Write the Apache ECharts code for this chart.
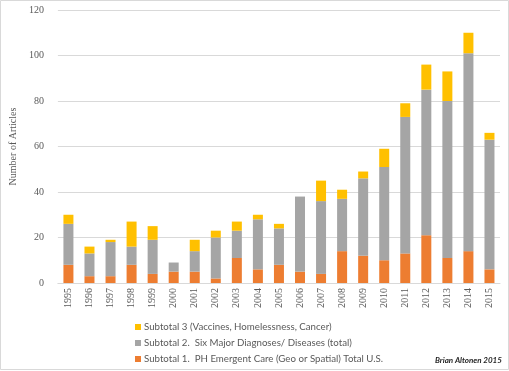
<!DOCTYPE html>
<html>
<head>
<meta charset="utf-8">
<script src="https://cdn.jsdelivr.net/npm/echarts@6/dist/echarts.min.js"></script>
<style>html,body{margin:0;padding:0;background:#fff;}#c{width:509px;height:371px;}</style>
</head>
<body>
<div id="c"></div>
<script>
var years = ['1995','1996','1997','1998','1999','2000','2001','2002','2003','2004','2005','2006','2007','2008','2009','2010','2011','2012','2013','2014','2015'];
var subtotal1 = [8,3,3,8,4,5,5,2,11,6,8,5,4,14,12,10,13,21,11,14,6];
var subtotal2 = [18,10,15,8,15,4,9,18,12,22,16,33,32,23,34,41,60,64,69,87,57];
var subtotal3 = [4,3,1,11,6,0,5,3,4,2,2,0,9,4,3,8,6,11,13,9,3];
var yTicks = [0,20,40,60,80,100,120];
var names = ['Subtotal 1.  PH Emergent Care (Geo or Spatial) Total U.S.', 'Subtotal 2.  Six Major Diagnoses/ Diseases (total)', 'Subtotal 3 (Vaccines, Homelessness, Cancer)'];

var chart = echarts.init(document.getElementById('c'));
var serif = '"Liberation Serif", "DejaVu Serif", serif';
var sans = 'Lato, "Liberation Sans", sans-serif';
function bar(name, data, color) {
  return { name: name, type: 'bar', stack: 'a', data: data, barWidth: 10,
    itemStyle: { color: color }, emphasis: { disabled: true } };
}
chart.setOption({
  animation: false,
  grid: { left: 48, right: 9, top: 10, bottom: 88, containLabel: false },
  graphic: [
    { type: 'rect', shape: { x: 0.5, y: 0.5, width: 508, height: 369 }, style: { fill: 'none', stroke: '#d9d9d9', lineWidth: 1 } },
    { type: 'text', left: 435, top: 356, style: { text: 'Brian Altonen 2015', font: 'italic bold 8px ' + sans, fill: '#262626' } }
  ],
  xAxis: {
    type: 'category', data: years,
    axisLine: { lineStyle: { color: '#d9d9d9' } },
    axisTick: { show: false },
    axisLabel: { rotate: 90, interval: 0, fontFamily: serif, fontSize: 10, color: '#595959', margin: 5 }
  },
  yAxis: {
    type: 'value', min: yTicks[0], max: yTicks[yTicks.length - 1], interval: 20,
    name: 'Number of Articles', nameLocation: 'middle', nameGap: 30,
    nameTextStyle: { fontFamily: serif, fontSize: 10, color: '#595959' },
    axisLine: { show: false }, axisTick: { show: false },
    axisLabel: { fontFamily: serif, fontSize: 10, color: '#595959', margin: 14 },
    splitLine: { lineStyle: { color: '#d9d9d9' } }
  },
  legend: {
    orient: 'vertical', left: 130, top: 317, itemWidth: 6, itemHeight: 6, itemGap: 6,
    icon: 'rect',
    data: [names[2], names[1], names[0]],
    textStyle: { fontFamily: sans, fontSize: 9.7, color: '#595959', padding: [0, 0, 0, -2] }
  },
  series: [
    bar(names[0], subtotal1, '#ED7D31'),
    bar(names[1], subtotal2, '#A5A5A5'),
    bar(names[2], subtotal3, '#FFC000')
  ]
});
</script>
</body>
</html>
